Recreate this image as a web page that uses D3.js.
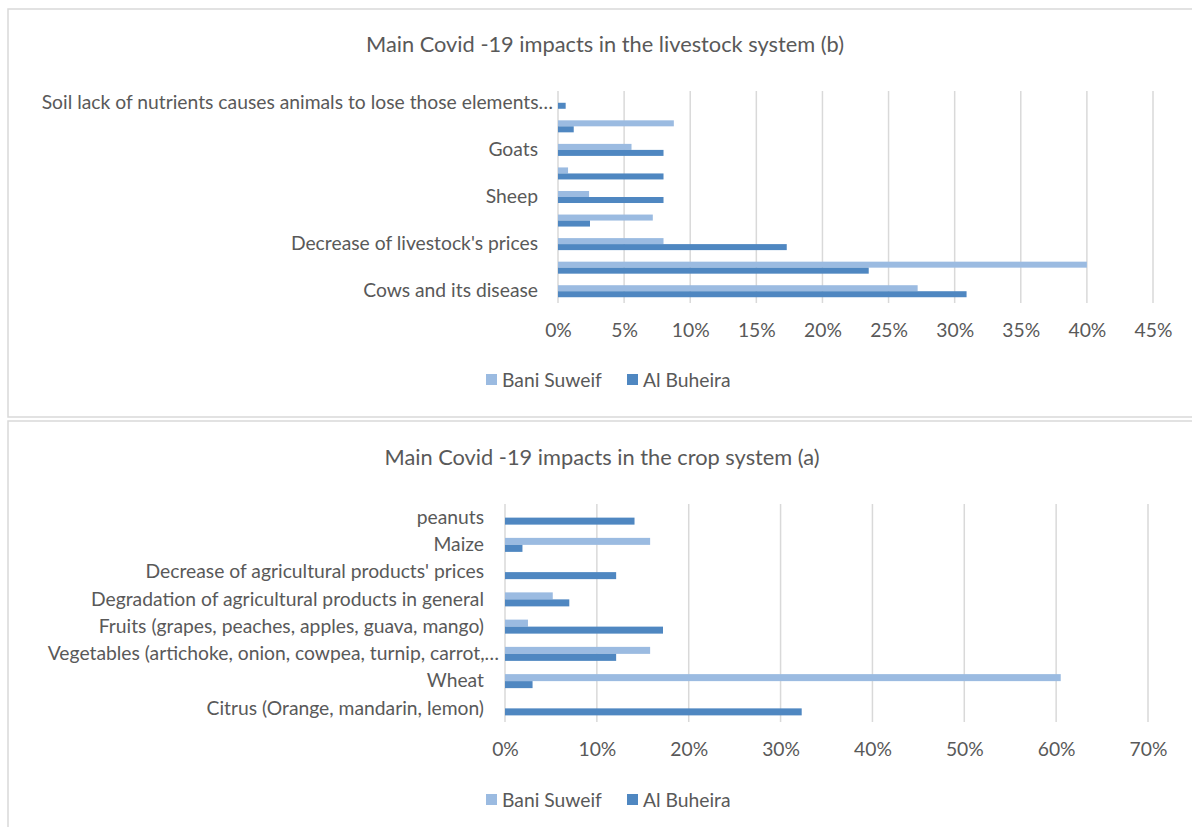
<!DOCTYPE html>
<html>
<head>
<meta charset="utf-8">
<script src="https://cdn.jsdelivr.net/npm/d3@7"></script>
<style>
  body { margin: 0; background: #fff; }
  svg { display: block; font-family: Lato, "Liberation Sans", sans-serif; }
  .tick text { fill: #595959; }
</style>
</head>
<body>
<div id="chart"></div>
<script>
// --- data (categories listed top to bottom as they appear) ---
const seriesNames = ['Bani Suweif', 'Al Buheira'];
const seriesColors = ['#9bbbe1', '#4f87c1'];

const livestockCategories = [
  'Soil lack of nutrients causes animals to lose those elements…',
  'Livestock item 2',
  'Goats',
  'Livestock item 4',
  'Sheep',
  'Livestock item 6',
  "Decrease of livestock's prices",
  'Livestock item 8',
  'Cows and its disease'
];
const livestockBani    = [0, 0.0876, 0.0556, 0.0076, 0.0235, 0.0717, 0.0798, 0.40, 0.272];
const livestockBuheira = [0.0058, 0.0119, 0.0798, 0.0798, 0.0798, 0.0242, 0.173, 0.235, 0.309];
const livestockTicks = [0, 0.05, 0.10, 0.15, 0.20, 0.25, 0.30, 0.35, 0.40, 0.45];

const cropCategories = [
  'peanuts',
  'Maize',
  "Decrease of agricultural products' prices",
  'Degradation of agricultural products in general',
  'Fruits (grapes, peaches, apples, guava, mango)',
  'Vegetables (artichoke, onion, cowpea, turnip, carrot,…',
  'Wheat',
  'Citrus (Orange, mandarin, lemon)'
];
const cropBani    = [0, 0.158, 0, 0.052, 0.025, 0.158, 0.605, 0];
const cropBuheira = [0.141, 0.019, 0.121, 0.070, 0.172, 0.121, 0.030, 0.323];
const cropTicks = [0, 0.10, 0.20, 0.30, 0.40, 0.50, 0.60, 0.70];

const W = 1192, H = 827;
const textColor = '#595959';
const gridColor = '#d9d9d9';
const labelSize = '19.3px';

const svg = d3.select('#chart').append('svg')
  .attr('width', W)
  .attr('height', H);

// panel borders
svg.append('rect')
  .attr('x', 8).attr('y', 9)
  .attr('width', W + 10).attr('height', 408)
  .attr('fill', 'none').attr('stroke', gridColor).attr('stroke-width', 1.5);
svg.append('rect')
  .attr('x', 8).attr('y', 421)
  .attr('width', W + 10).attr('height', 420)
  .attr('fill', 'none').attr('stroke', gridColor).attr('stroke-width', 1.5);

function drawPanel(opts) {
  const { title, titleX, titleY, categories, bani, buheira, ticks, xMax,
          left, right, top, bottom, showEvery, legendY } = opts;

  const g = svg.append('g');

  const x = d3.scaleLinear().domain([0, xMax]).range([left, right]);
  const y = d3.scaleBand()
    .domain(categories)
    .range([top, bottom])
    .paddingInner(opts.pad)
    .paddingOuter(opts.pad / 2);
  const ySub = d3.scaleBand()
    .domain(seriesNames)
    .range([0, y.bandwidth()]);

  // title
  g.append('text')
    .attr('x', titleX).attr('y', titleY)
    .attr('text-anchor', 'middle')
    .style('font-size', '21.8px')
    .style('fill', textColor)
    .text(title);

  // gridlines
  g.append('g')
    .selectAll('line')
    .data(ticks)
    .enter().append('line')
    .attr('x1', d => x(d)).attr('x2', d => x(d))
    .attr('y1', top).attr('y2', bottom)
    .attr('stroke', gridColor)
    .attr('stroke-width', 1.5);

  // x axis labels
  const xAxis = g.append('g')
    .attr('transform', `translate(0,${bottom})`)
    .call(d3.axisBottom(x).tickValues(ticks).tickFormat(d3.format('.0%')).tickSize(0).tickPadding(20))
    .attr('font-family', null)
    .attr('font-size', null);
  xAxis.select('.domain').remove();
  xAxis.selectAll('text').style('font-size', labelSize);

  // y axis labels
  const yAxis = g.append('g')
    .attr('transform', `translate(${left},0)`)
    .call(d3.axisLeft(y).tickSize(0).tickPadding(opts.labelPad)
      .tickFormat((d, i) => (i % showEvery === 0 ? d : '')))
    .attr('font-family', null)
    .attr('font-size', null);
  yAxis.select('.domain').remove();
  yAxis.selectAll('text')
    .style('font-size', labelSize)
    .attr('x', d => (d.endsWith('…') ? -opts.labelPad + opts.ellipsisShift : -opts.labelPad));

  // bars
  const rows = categories.map((c, i) => ({ cat: c, values: [bani[i], buheira[i]] }));
  const groups = g.append('g')
    .selectAll('g')
    .data(rows)
    .enter().append('g')
    .attr('transform', d => `translate(0,${y(d.cat)})`);

  groups.selectAll('rect')
    .data(d => d.values.map((v, j) => ({ name: seriesNames[j], v, j })))
    .enter().append('rect')
    .attr('x', x(0))
    .attr('y', d => ySub(d.name))
    .attr('width', d => x(d.v) - x(0))
    .attr('height', ySub.bandwidth())
    .attr('fill', d => seriesColors[d.j]);

  // legend
  const legend = g.append('g')
    .attr('transform', `translate(0,${legendY})`);
  const legendX = [486, 627];
  seriesNames.forEach((name, j) => {
    legend.append('rect')
      .attr('x', legendX[j]).attr('y', -6)
      .attr('width', 11).attr('height', 11)
      .attr('fill', seriesColors[j]);
    legend.append('text')
      .attr('x', legendX[j] + 16).attr('y', 6.5)
      .style('font-size', labelSize)
      .style('fill', textColor)
      .text(name);
  });
}

drawPanel({
  title: 'Main Covid -19 impacts in the livestock system (b)',
  titleX: 605, titleY: 52,
  categories: livestockCategories,
  bani: livestockBani,
  buheira: livestockBuheira,
  ticks: livestockTicks,
  xMax: 0.45,
  left: 558, right: 1153, top: 91, bottom: 303,
  pad: 0.49,
  showEvery: 2,
  labelPad: 20,
  ellipsisShift: 15,
  legendY: 380
});

drawPanel({
  title: 'Main Covid -19 impacts in the crop system (a)',
  titleX: 602, titleY: 465,
  categories: cropCategories,
  bani: cropBani,
  buheira: cropBuheira,
  ticks: cropTicks,
  xMax: 0.70,
  left: 505, right: 1148, top: 504, bottom: 722,
  pad: 0.486,
  showEvery: 1,
  labelPad: 21,
  ellipsisShift: 15,
  legendY: 800
});
</script>
</body>
</html>
